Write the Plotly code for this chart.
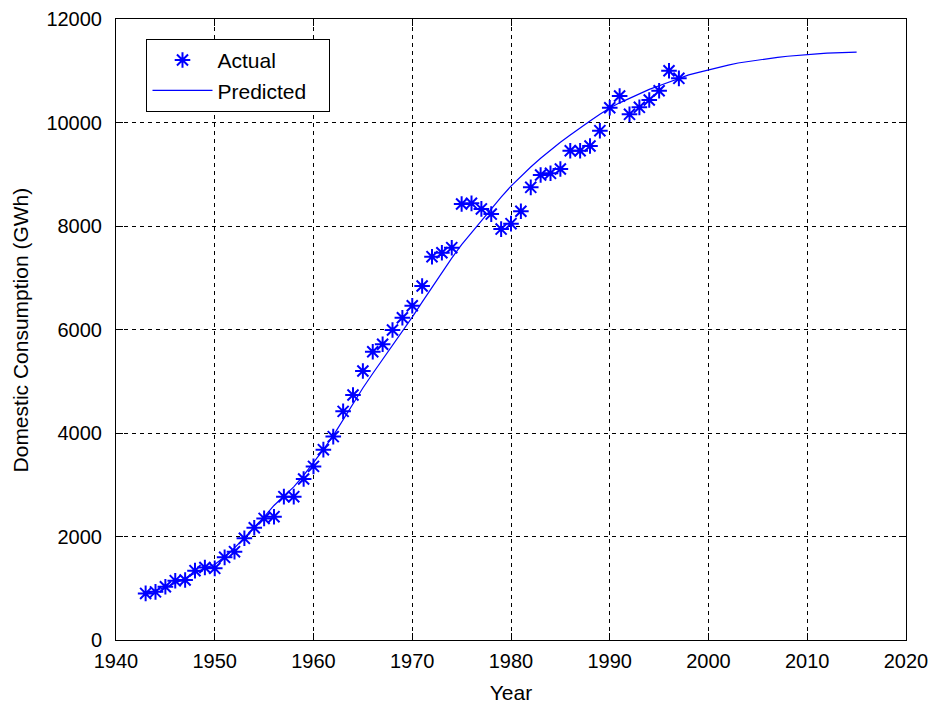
import plotly.graph_objects as go

# Actual data
actual_years = list(range(1943, 1998))
actual_values = [
    900, 930, 1030, 1146, 1160, 1340, 1400, 1385, 1597, 1707,
    1965, 2170, 2350, 2383, 2770, 2770, 3111, 3355, 3678, 3930,
    4418, 4734, 5198, 5571, 5714, 5990, 6228, 6460, 6840, 7407,
    7484, 7581, 8425, 8438, 8330, 8230, 7940, 8045, 8285, 8747,
    8985, 9018, 9101, 9455, 9455, 9546, 9842, 10286, 10512, 10158,
    10293, 10435, 10614, 11000, 10853,
]

# Predicted curve
pred_years = list(range(1943, 2016))
pred_values = [
    890, 950, 1020, 1100, 1190, 1290, 1390, 1460, 1610, 1780,
    1970, 2170, 2380, 2600, 2790, 2960, 3180, 3420, 3680, 3950,
    4260, 4570, 4870, 5150, 5420, 5690, 5960, 6240, 6530, 6820,
    7110, 7380, 7640, 7870, 8110, 8340, 8560, 8770, 8960, 9140,
    9310, 9470, 9620, 9760, 9900, 10030, 10160, 10280, 10380, 10470,
    10560, 10640, 10710, 10780, 10860, 10920, 10970, 11020, 11070, 11110,
    11150, 11180, 11210, 11235, 11260, 11280, 11300, 11315, 11328, 11340,
    11348, 11355, 11360,
]

x_ticks = [1940, 1950, 1960, 1970, 1980, 1990, 2000, 2010, 2020]
y_ticks = [0, 2000, 4000, 6000, 8000, 10000, 12000]

FONT = "Liberation Sans, Arial, sans-serif"
NBSP = "\u00a0"

fig = go.Figure()
fig.add_trace(go.Scatter(
    x=actual_years, y=actual_values, mode="markers", name="Actual",
    marker=dict(symbol="asterisk-open", size=13, color="#0000ff",
                line=dict(color="#0000ff", width=2)),
))
fig.add_trace(go.Scatter(
    x=pred_years, y=pred_values, mode="lines", name="Predicted" + NBSP * 3,
    line=dict(color="#0000ff", width=1.2),
))

axis_common = dict(
    showgrid=True, gridcolor="black", gridwidth=1, griddash="4px,4px",
    showline=True, linecolor="black", linewidth=1, mirror="ticks",
    ticks="inside", ticklen=7, tickcolor="black", tickwidth=1,
    zeroline=False, automargin=False,
    tickfont=dict(family=FONT, size=20, color="black"),
    title_font=dict(family=FONT, size=21, color="black"),
)

fig.update_xaxes(
    range=[1940, 2020], tickvals=x_ticks, ticktext=[str(v) for v in x_ticks],
    title_text="Year", ticklabelstandoff=3, **axis_common,
)
fig.update_yaxes(
    range=[0, 12000], tickvals=y_ticks, ticktext=[str(v) for v in y_ticks],
    ticklabelstandoff=9, **axis_common,
)

fig.add_annotation(
    text="Domestic Consumption (GWh)", textangle=-90,
    xref="paper", yref="paper", x=-0.1203, y=0.5,
    xanchor="center", yanchor="middle", showarrow=False,
    font=dict(family=FONT, size=21, color="black"),
)

fig.update_layout(
    width=931, height=704,
    margin=dict(l=116, r=25, t=19, b=64),
    paper_bgcolor="white", plot_bgcolor="white",
    font=dict(family=FONT, size=20, color="black"),
    legend=dict(
        x=0.0386, y=0.968, xanchor="left", yanchor="top",
        bgcolor="white", bordercolor="black", borderwidth=1,
        font=dict(family=FONT, size=21, color="black"), itemwidth=60,
        tracegroupgap=0,
    ),
    showlegend=True,
)

fig.write_html("out.html")
